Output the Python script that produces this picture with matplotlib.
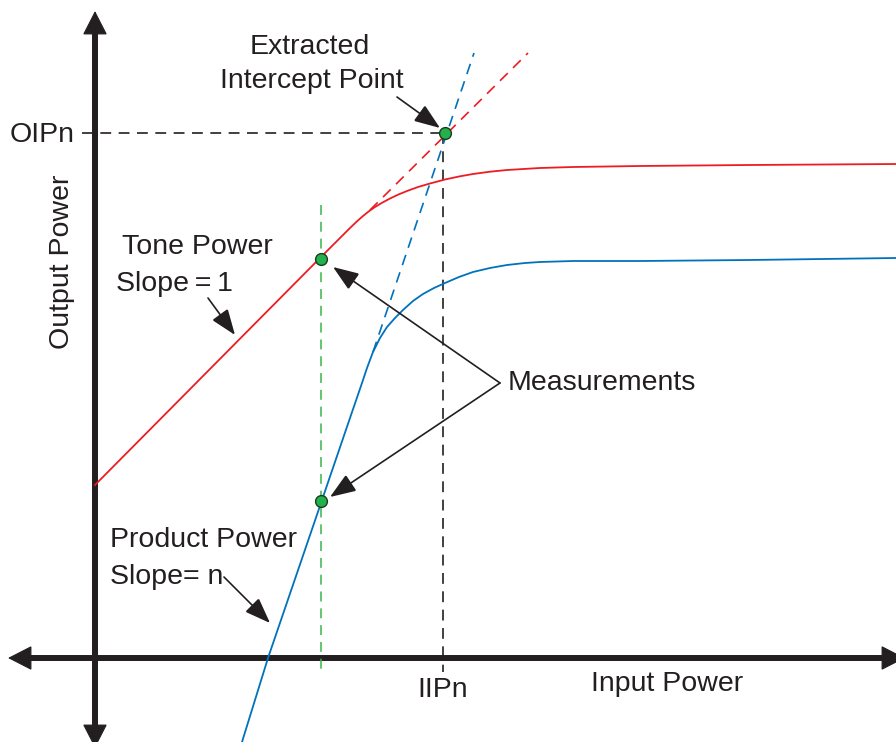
import matplotlib
matplotlib.use("Agg")
import matplotlib.pyplot as plt

plt.rcParams['font.family'] = ['Liberation Sans', 'DejaVu Sans']

# ---- data (arbitrary power units, origin at the axis crossing) ----
tone_x = [0, 225, 245, 255, 262, 268, 274, 280, 287, 295, 303, 312, 323, 335, 350, 365, 378,
          395, 412, 445, 478, 545, 655, 801]
tone_y = [173, 400, 420, 430, 436.7, 442, 446.8, 451, 455.2, 459.5, 463.3, 467, 471, 474.5,
          478.5, 481.7, 484, 486.3, 488, 490, 491, 492, 493, 494]

prod_x = [147, 173, 227, 255, 267, 272, 278, 285, 292, 300, 308, 318, 328, 339, 350, 364, 378,
          395, 412, 430, 445, 478, 545, 655, 801]
prod_y = [-84, 0, 158, 240, 275, 290, 306, 320, 331, 340, 348, 357, 364, 370, 375, 381, 386,
          390, 393, 395, 396, 397, 397, 398, 400]

tone_ext_x = [275, 433]
tone_ext_y = [448, 605]
prod_ext_x = [278, 379]
prod_ext_y = [306, 605]

iip = 348
oip = 525
meas_x = 226
meas_tone_y = 399
meas_prod_y = 157

RED = '#ed1c24'
BLUE = '#0072bc'
GREEN = '#39b54a'
DOT = '#22b14c'
INK = '#231f20'

fig = plt.figure(figsize=(8.96, 7.42), dpi=100)
ax = fig.add_axes([0, 0, 1, 1])
ax.set_xlim(-95, 801)
ax.set_ylim(-84, 658)
ax.axis('off')

# axes shafts
ax.plot([0, 0], [-70, 630], color=INK, lw=4.3, solid_capstyle='butt', clip_on=False, zorder=2)
ax.plot([-70, 795], [0, 0], color=INK, lw=4.3, solid_capstyle='butt', clip_on=False, zorder=2)
# axes arrow heads
head = dict(arrowstyle='-|>,head_length=0.78,head_width=0.4', lw=0.8, color=INK,
            shrinkA=0, shrinkB=0, mutation_scale=20, joinstyle='miter')
for tip, tail in [((0, 647), (0, 600)), ((0, -90), (0, -40)),
                  ((-87, 0), (-40, 0)), ((810, 0), (760, 0))]:
    ax.annotate('', xy=tip, xytext=tail, arrowprops=head, annotation_clip=False)

# reference dashed lines
ax.plot([-13, iip], [oip, oip], color=INK, lw=1.2, dashes=(6.5, 4.5), zorder=3)
ax.plot([iip, iip], [oip, -14], color=INK, lw=1.2, dashes=(6.5, 4.5), zorder=3)
ax.plot([meas_x, meas_x], [453, -14], color=GREEN, lw=1.1, dashes=(6.5, 4.5), zorder=3)

# extrapolations
ax.plot(tone_ext_x, tone_ext_y, color=RED, lw=1.2, dashes=(6.5, 4.5), zorder=4)
ax.plot(prod_ext_x, prod_ext_y, color=BLUE, lw=1.2, dashes=(6.5, 4.5), zorder=4)

# curves
ax.plot(tone_x, tone_y, color=RED, lw=1.3, zorder=5, solid_joinstyle='round')
ax.plot(prod_x, prod_y, color=BLUE, lw=1.3, zorder=5, solid_joinstyle='round')

# points
ax.plot([meas_x, meas_x, iip + 2], [meas_tone_y, meas_prod_y, oip], 'o', ms=8.5,
        mfc=DOT, mec='#1a3d1f', mew=1.0, zorder=7)

# annotation arrows
arr = dict(arrowstyle='-|>,head_length=0.8,head_width=0.3', lw=1.2, color=INK,
           shrinkA=0, shrinkB=0, mutation_scale=20, joinstyle='miter')
ax.annotate('', xy=(345, 530), xytext=(302, 561), arrowprops=arr, zorder=6)
ax.annotate('', xy=(140, 323), xytext=(113, 360), arrowprops=arr, zorder=6)
ax.annotate('', xy=(175, 35), xytext=(129, 81), arrowprops=arr, zorder=6)
ax.annotate('', xy=(238, 391), xytext=(405, 275), arrowprops=arr, zorder=6)
ax.annotate('', xy=(235, 161), xytext=(405, 275), arrowprops=arr, zorder=6)

fs = 20.5
ax.text(215, 611, 'Extracted', fontsize=fs, color=INK, ha='center', va='center')
ax.text(217, 577, 'Intercept Point', fontsize=fs, color=INK, ha='center', va='center')
ax.text(-20, 523, 'OIPn', fontsize=fs, color=INK, ha='right', va='center')
ax.text(-33, 396, 'Output Power', fontsize=fs, color=INK, ha='center', va='center', rotation=90)
ax.text(27, 411, 'Tone Power', fontsize=fs, color=INK, ha='left', va='center')
ax.text(21, 374, 'Slope\u2009=\u20091', fontsize=fs, color=INK, ha='left', va='center')
ax.text(15, 118, 'Product Power', fontsize=fs, color=INK, ha='left', va='center')
ax.text(15, 81, 'Slope= n', fontsize=fs, color=INK, ha='left', va='center')
ax.text(413, 275, 'Measurements', fontsize=fs, color=INK, ha='left', va='center')
ax.text(348, -32, 'IIPn', fontsize=fs, color=INK, ha='center', va='center')
ax.text(496, -26, 'Input Power', fontsize=fs, color=INK, ha='left', va='center')

fig.savefig('out.png', dpi=100)
